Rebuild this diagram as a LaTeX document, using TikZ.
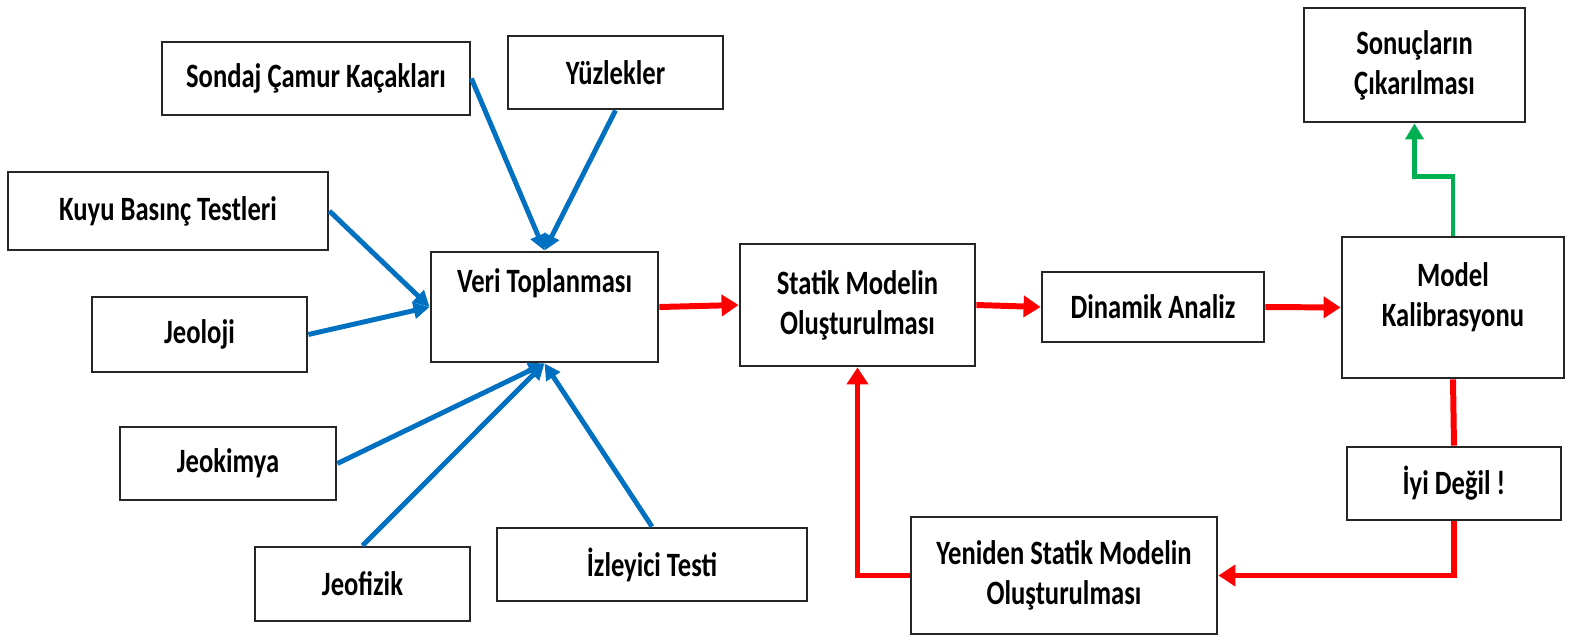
\documentclass[tikz,border=0pt]{standalone}
\usepackage{fontspec}
\setmainfont{Carlito}[FakeStretch=0.78]
\usetikzlibrary{arrows.meta}

\definecolor{flowblue}{RGB}{0,112,192}
\definecolor{flowred}{RGB}{255,0,0}
\definecolor{flowgreen}{RGB}{0,176,80}

\begin{document}
\begin{tikzpicture}[>=Latex, font=\fontsize{9.7}{11.4}\selectfont\bfseries,
  box/.style={draw=black!85, line width=0.8pt, fill=white, align=center, inner sep=0pt},
  inarrow/.style={draw=flowblue, line width=1.4pt, -{Triangle[length=1.6mm, width=1.6mm]}},
  flowarrow/.style={draw=flowred, line width=1.7pt, -{Triangle[length=1.7mm, width=2.1mm]}},
  okarrow/.style={draw=flowgreen, line width=1.4pt, -{Triangle[length=1.6mm, width=1.8mm]}}]

  \useasboundingbox (0,0) rectangle (15.69,-6.38);

  % data sources
  \node[box, minimum width=3.08cm, minimum height=0.73cm] (sondaj) at (3.16,-0.785) {Sondaj Çamur Kaçakları};
  \node[box, minimum width=2.15cm, minimum height=0.73cm] (yuzlek) at (6.155,-0.725) {Yüzlekler};
  \node[box, minimum width=3.20cm, minimum height=0.78cm] (kuyu) at (1.68,-2.11) {Kuyu Basınç Testleri};
  \node[box, minimum width=2.15cm, minimum height=0.75cm] (jeoloji) at (1.995,-3.345) {Jeoloji};
  \node[box, minimum width=2.16cm, minimum height=0.73cm] (jeokimya) at (2.28,-4.635) {Jeokimya};
  \node[box, minimum width=2.15cm, minimum height=0.74cm] (jeofizik) at (3.625,-5.84) {Jeofizik};
  \node[box, minimum width=3.10cm, minimum height=0.73cm] (izleyici) at (6.52,-5.645) {İzleyici Testi};

  % main flow
  \node[box, minimum width=2.27cm, minimum height=1.10cm] (veri) at (5.445,-3.07) {Veri Toplanması\\ \strut};
  \node[box, minimum width=2.35cm, minimum height=1.22cm] (statik) at (8.575,-3.05) {Statik Modelin\\Oluşturulması};
  \node[box, minimum width=2.22cm, minimum height=0.70cm] (dinamik) at (11.53,-3.07) {Dinamik Analiz};
  \node[box, minimum width=2.22cm, minimum height=1.41cm, text depth=0.25cm] (kalib) at (14.53,-3.075) {Model\\Kalibrasyonu};
  \node[box, minimum width=2.21cm, minimum height=1.14cm] (sonuc) at (14.145,-0.65) {Sonuçların\\Çıkarılması};
  \node[box, minimum width=2.14cm, minimum height=0.73cm] (iyi) at (14.54,-4.835) {İyi Değil !};
  \node[box, minimum width=3.06cm, minimum height=1.17cm] (yeniden) at (10.64,-5.755) {Yeniden Statik Modelin\\Oluşturulması};

  \foreach \src/\dst in {sondaj.east/veri.north, yuzlek.south/veri.north,
      kuyu.east/veri.west, jeoloji.east/veri.west, jeokimya.east/veri.south,
      jeofizik.north/veri.south, izleyici.north/veri.south} {
    \draw[inarrow] (\src) -- (\dst);
  }

  \draw[flowarrow] (veri.east) -- (statik.west);
  \draw[flowarrow] (statik.east) -- (dinamik.west);
  \draw[flowarrow] (dinamik.east) -- (kalib.west);
  \draw[flowred, line width=1.7pt] (kalib.south) -- (iyi.north);
  \draw[flowarrow] (iyi.south) |- (yeniden.east);
  \draw[flowarrow] (yeniden.west) -| (statik.south);

  \draw[okarrow] (kalib.north) -- ++(0,0.59) -| (sonuc.south);

\end{tikzpicture}
\end{document}
